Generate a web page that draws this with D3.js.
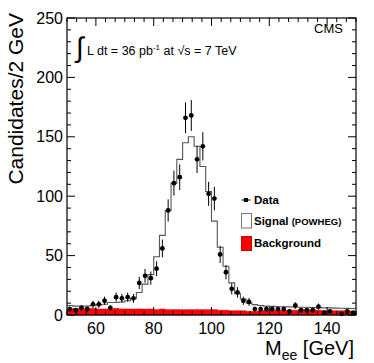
<!DOCTYPE html>
<html>
<head>
<meta charset="utf-8">
<script src="https://cdn.jsdelivr.net/npm/d3@7"></script>
<style>
  body { margin: 0; background: #fff; }
  text { font-family: "Liberation Sans", Arial, sans-serif; }
</style>
</head>
<body>
<div id="chart"></div>
<script>
// bin centres (2 GeV bins from 50 to 150)
var binCenters = [51, 53, 55, 57, 59, 61, 63, 65, 67, 69, 71, 73, 75, 77, 79, 81, 83, 85, 87, 89,
  91, 93, 95, 97, 99, 101, 103, 105, 107, 109, 111, 113, 115, 117, 119, 121, 123, 125, 127, 129,
  131, 133, 135, 137, 139, 141, 143, 145, 147, 149];

// observed candidates per bin
var dataCounts = [5, 4, 6, 5, 9, 9, 12, 6, 15, 14, 15, 14, 27, 33, 31, 39, 56, 88, 111, 116,
  166, 168, 131, 142, 102, 98, 51, 36, 22, 19, 12, 11, 5, 5, 5, 5, 5, 5, 3, 8,
  4, 4, 4, 7, 2, 3, 0, 1, 3, 2];

// signal + background stack height (grey line)
var mcTotal = [8, 7.5, 7.5, 7.5, 8, 8.5, 9, 10.5, 10.5, 11, 12, 14, 19, 26, 34, 49, 67, 88, 111, 131,
  145, 150, 142, 125, 104, 79, 57, 41, 27, 18, 13.5, 10, 8.7, 8, 7.5, 7.3, 7, 7, 6.8, 6.7,
  6.5, 6.5, 6.3, 6.2, 6, 6, 5.8, 5.7, 5.6, 5.5];

// background (red)
var bkgCounts = [5, 5.5, 5.5, 5.5, 5.5, 5, 5, 5, 5.5, 5, 5, 5, 5, 5, 5, 4.5, 5, 4.5, 4.5, 4.5,
  4.5, 4.5, 4.5, 4.5, 4.5, 4.5, 4, 4, 3.5, 3.5, 3.5, 3, 3, 3.5, 4, 4, 4, 4, 4, 4,
  4.5, 4.5, 4.5, 4, 3.5, 3.5, 3.5, 3.5, 3.5, 3];

var xTicks = [60, 80, 100, 120, 140];
var yTicks = [0, 50, 100, 150, 200, 250];

var binWidth = 2;
var W = 374, H = 363;
var margin = { left: 67, right: 356, top: 18, bottom: 315 };

var x = d3.scaleLinear().domain([50, 150]).range([margin.left, margin.right]);
var y = d3.scaleLinear().domain([0, 250]).range([margin.bottom, margin.top]);

var svg = d3.select("#chart").append("svg")
  .attr("width", W)
  .attr("height", H);

// turn a per-bin array into step points
function steps(vals) {
  var pts = [];
  binCenters.forEach(function(c, i) {
    pts.push([c - binWidth / 2, vals[i]]);
    pts.push([c + binWidth / 2, vals[i]]);
  });
  return pts;
}

// background histogram, filled red
var bkgArea = d3.area()
  .x(function(d) { return x(d[0]); })
  .y0(y(0))
  .y1(function(d) { return y(d[1]); });

svg.append("path")
  .datum(steps(bkgCounts))
  .attr("d", bkgArea)
  .attr("fill", "#ff0000")
  .attr("stroke", "#cc0000")
  .attr("stroke-width", 0.6);

// signal stacked on background, grey outline
var stepLine = d3.line()
  .x(function(d) { return x(d[0]); })
  .y(function(d) { return y(d[1]); });

svg.append("path")
  .datum(steps(mcTotal))
  .attr("d", stepLine)
  .attr("fill", "none")
  .attr("stroke", "#555")
  .attr("stroke-width", 1.1);

// data points with sqrt(N) errors
var pts = binCenters.map(function(c, i) { return { x: c, n: dataCounts[i] }; })
  .filter(function(d) { return d.n > 0; });

svg.append("g").selectAll("line")
  .data(pts)
  .enter().append("line")
  .attr("x1", function(d) { return x(d.x); })
  .attr("x2", function(d) { return x(d.x); })
  .attr("y1", function(d) { return y(d.n - Math.sqrt(d.n)); })
  .attr("y2", function(d) { return y(d.n + Math.sqrt(d.n)); })
  .attr("stroke", "#000")
  .attr("stroke-width", 1);

svg.append("g").selectAll("circle")
  .data(pts)
  .enter().append("circle")
  .attr("cx", function(d) { return x(d.x); })
  .attr("cy", function(d) { return y(d.n); })
  .attr("r", 2.4)
  .attr("fill", "#000");

// frame
svg.append("rect")
  .attr("x", margin.left).attr("y", margin.top)
  .attr("width", margin.right - margin.left).attr("height", margin.bottom - margin.top)
  .attr("fill", "none")
  .attr("stroke", "#000")
  .attr("stroke-width", 1.2);

// ticks on all four sides, pointing inwards (ROOT style)
var xMinor = d3.range(0, 31).map(function(k) { return 50 + k * 10 / 3; });
var yMinor = d3.range(0, 26).map(function(k) { return k * 10; });
var tg = svg.append("g").attr("stroke", "#000").attr("stroke-width", 1);

xMinor.forEach(function(v) {
  var major = xTicks.some(function(t) { return Math.abs(t - v) < 0.01; });
  var len = major ? 8 : 4;
  tg.append("line").attr("x1", x(v)).attr("x2", x(v))
    .attr("y1", margin.bottom).attr("y2", margin.bottom - len);
  tg.append("line").attr("x1", x(v)).attr("x2", x(v))
    .attr("y1", margin.top).attr("y2", margin.top + len);
});
yMinor.forEach(function(v) {
  var len = v % 50 === 0 ? 8 : 4;
  tg.append("line").attr("x1", margin.left).attr("x2", margin.left + len)
    .attr("y1", y(v)).attr("y2", y(v));
  tg.append("line").attr("x1", margin.right).attr("x2", margin.right - len)
    .attr("y1", y(v)).attr("y2", y(v));
});

// tick labels
svg.append("g").selectAll("text")
  .data(xTicks)
  .enter().append("text")
  .attr("x", function(d) { return x(d); })
  .attr("y", 334)
  .attr("text-anchor", "middle")
  .attr("font-size", 16)
  .text(function(d) { return d; });

svg.append("g").selectAll("text")
  .data(yTicks)
  .enter().append("text")
  .attr("x", 63)
  .attr("y", function(d) { return y(d) + 5.5; })
  .attr("text-anchor", "end")
  .attr("font-size", 16)
  .text(function(d) { return d; });

// axis titles
var xt = svg.append("text")
  .attr("x", 354)
  .attr("y", 355)
  .attr("text-anchor", "end")
  .attr("font-size", 20);
xt.append("tspan").text("M");
xt.append("tspan").attr("font-size", 14).attr("dy", 5).text("ee");
xt.append("tspan").attr("dy", -5).text(" [GeV]");

svg.append("text")
  .attr("transform", "translate(23,13) rotate(-90)")
  .attr("text-anchor", "end")
  .attr("font-size", 21)
  .text("Candidates/2 GeV");

// luminosity label
svg.append("text")
  .attr("x", 76)
  .attr("y", 57)
  .attr("font-size", 28)
  .text("\u222B");

var lum = svg.append("text")
  .attr("x", 87)
  .attr("y", 55)
  .attr("font-size", 12.5);
lum.append("tspan").text("L dt = 36 pb");
lum.append("tspan").attr("font-size", 8).attr("dy", -5).text("-1");
lum.append("tspan").attr("dy", 5).text(" at \u221As = 7 TeV");

svg.append("text")
  .attr("x", 343)
  .attr("y", 33)
  .attr("text-anchor", "end")
  .attr("font-size", 13)
  .text("CMS");

// legend
var lg = svg.append("g");
lg.append("line")
  .attr("x1", 241.5).attr("x2", 250.5).attr("y1", 200).attr("y2", 200)
  .attr("stroke", "#000");
lg.append("rect")
  .attr("x", 244).attr("y", 198).attr("width", 4).attr("height", 4)
  .attr("fill", "#000");
lg.append("text")
  .attr("x", 254).attr("y", 204)
  .attr("font-size", 11.5).attr("font-weight", "bold")
  .text("Data");

lg.append("rect")
  .attr("x", 241.5).attr("y", 213.5).attr("width", 10).attr("height", 14.5)
  .attr("fill", "#fff").attr("stroke", "#777");
var sig = lg.append("text")
  .attr("x", 254).attr("y", 225)
  .attr("font-size", 11.5).attr("font-weight", "bold");
sig.append("tspan").text("Signal ");
sig.append("tspan").attr("font-size", 9.5).text("(POWHEG)");

lg.append("rect")
  .attr("x", 241.5).attr("y", 236.5).attr("width", 10).attr("height", 14)
  .attr("fill", "#ff0000").attr("stroke", "#cc0000");
lg.append("text")
  .attr("x", 254).attr("y", 246.5)
  .attr("font-size", 11.5).attr("font-weight", "bold")
  .text("Background");
</script>
</body>
</html>
